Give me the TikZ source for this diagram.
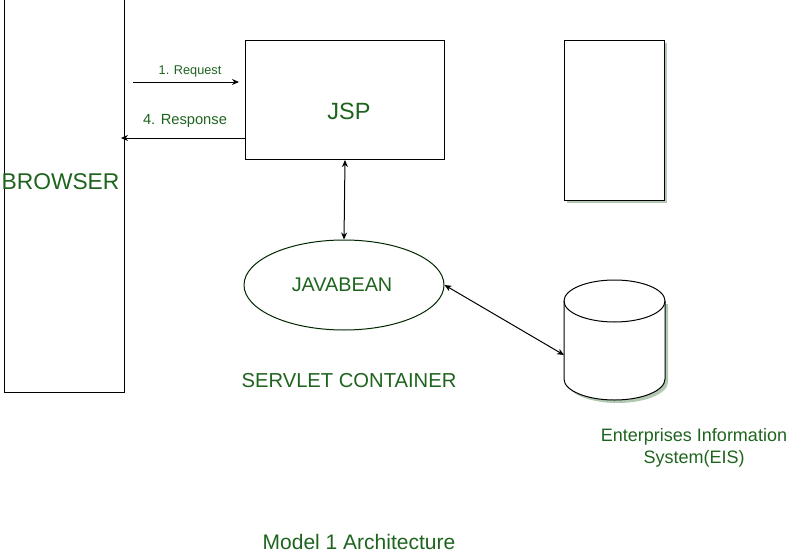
\documentclass[tikz,border=0pt]{standalone}
\usepackage{fontspec}
\setmainfont{Liberation Sans}
\usetikzlibrary{shapes.geometric,arrows.meta}
\definecolor{txtgreen}{RGB}{30,100,30}
\definecolor{shadowc}{RGB}{178,200,178}
\begin{document}
\begin{tikzpicture}[x=1pt,y=1pt,
  line width=1pt,
  box/.style={draw=black,fill=white,inner sep=0pt},
  lbl/.style={text=txtgreen,inner sep=0pt},
  arr/.style={-{Stealth[length=7pt,width=6pt]}},
  biarr/.style={{Stealth[length=7pt,width=6pt]}-{Stealth[length=7pt,width=6pt]}},
  fs/.style={font=\fontsize{#1}{#1}\selectfont}]
\useasboundingbox (0,0) rectangle (797,-554);
% browser
\node[box,minimum width=120pt,minimum height=394pt,anchor=north west] (browser) at (4,2) {};
\node[lbl,fs=22.8] (browsertxt) at (60.5,-182) {BROWSER};
% JSP
\node[box,minimum width=199pt,minimum height=119pt,anchor=north west] (jsp) at (245,-40) {};
\node[lbl,fs=23.5] (jsptxt) at (349,-111) {JSP};
% right empty box with shadow
\fill[shadowc] (567,-43) rectangle (667,-203);
\node[box,minimum width=100pt,minimum height=160pt,anchor=north west] (side) at (564,-40) {};
% javabean
\node[ellipse,draw=black!85!green,minimum width=200pt,minimum height=90pt,inner sep=0pt] (jb) at (344,-285) {};
\node[lbl,fs=19.8] (jbtxt) at (342,-285) {JAVABEAN};
% cylinder EIS
\begin{scope}
\fill[shadowc] (567,-304) -- (567,-382) arc[start angle=180,end angle=360,x radius=50.5,y radius=21] -- (668,-304) -- cycle;
\filldraw[fill=white,draw=black] (564,-301) -- (564,-379) arc[start angle=180,end angle=360,x radius=50.5,y radius=21] -- (665,-301) arc[start angle=0,end angle=180,x radius=50.5,y radius=21] -- cycle;
\draw (564,-301) arc[start angle=180,end angle=360,x radius=50.5,y radius=21];
\end{scope}
\coordinate (eisL) at (564,-355);
% texts
\node[lbl,fs=20.2] (servlet) at (349,-381) {SERVLET CONTAINER};
\node[lbl,fs=18,align=center] (eistxt) at (694,-448) {Enterprises Information\\[4pt]System(EIS)};
\node[lbl,fs=21] (title) at (359,-542) {Model 1 Architecture};
% connectors
\coordinate (reqS) at (133,-82);
\coordinate (reqE) at (239,-82);
\draw[arr] (reqS) -- (reqE);
\node[lbl,fs=12.7] (reqtxt) at (190,-71) {1. Request};
\coordinate (resS) at (jsp.west |- 0,-138);
\coordinate (resE) at (121,-138);
\draw[arr] (resS) -- (resE);
\node[lbl,fs=14.7] (restxt) at (185,-121) {4. Response};
\draw[biarr] (jsp.south) -- (jb.north);
\draw[biarr] (jb.east) -- (eisL);
\end{tikzpicture}
\end{document}
